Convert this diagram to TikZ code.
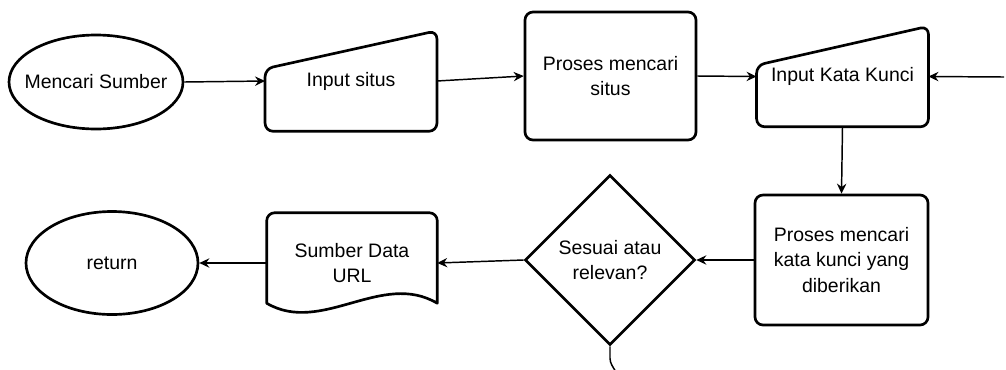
\documentclass[tikz,border=0pt]{standalone}
\usepackage{fontspec}
\setmainfont{Liberation Sans}
\usetikzlibrary{shapes.geometric, arrows.meta, calc}

\begin{document}
\begin{tikzpicture}[
    x=0.75pt, y=-0.75pt,
    font=\fontsize{14.6}{19}\selectfont,
    termnode/.style={draw, ellipse, line width=2pt, inner sep=0pt, minimum width=129pt, minimum height=72pt, align=center},
    procnode/.style={draw, rounded corners=6pt, line width=2pt, minimum width=128.25pt, minimum height=96pt, align=center},
    inputnode/.style={minimum width=128.5pt, minimum height=75pt, inner sep=0pt, align=center},
    decnode/.style={draw, diamond, aspect=1, line width=2pt, inner sep=0pt, minimum width=127.5pt, minimum height=127.5pt, align=center},
    docnode/.style={minimum width=127.5pt, minimum height=75pt, inner sep=0pt, align=center},
    outline/.style={line width=2pt, line join=round},
    flow/.style={-{Stealth[length=7.5pt, width=7pt, inset=2.5pt]}, line width=1.1pt}
]
\useasboundingbox (0,0) rectangle (1006,369);

\node[termnode, inner xsep=-8pt, minimum width=130.5pt, minimum height=70.5pt] (start) at (96,82) {Mencari Sumber};
\node[inputnode] (inSitus) at (351,81) {Input situs};
\node[procnode] (prSitus) at (610.5,76) {Proses mencari\\situs};
\node[inputnode] (inKunci) at (842.5,76.5) {Input Kata Kunci};
\node[procnode, minimum width=129.75pt, minimum height=97.5pt] (prKunci) at (841.5,260) {Proses mencari\\kata kunci yang\\diberikan};
\node[decnode] (cek) at (610,260) {Sesuai atau\\relevan?};
\node[docnode] (urlDoc) at (352,263) {Sumber Data\\URL};
\node[termnode, minimum height=77.25pt] (ret) at (112,263) {return};

\draw[outline, rounded corners=6pt] ($(inSitus.north west)+(0,38)$) -- (inSitus.north east) -- (inSitus.south east) -- (inSitus.south west) -- cycle;
\draw[outline, rounded corners=6pt] ($(inKunci.north west)+(0,39)$) -- (inKunci.north east) -- (inKunci.south east) -- (inKunci.south west) -- cycle;
\draw[outline] ($(urlDoc.south west)+(0,-10)$) [rounded corners=6pt] -- (urlDoc.north west) -- (urlDoc.north east) [sharp corners] -- ($(urlDoc.south east)+(0,-10)$)
    .. controls ($(urlDoc.south west)+(115,-43)$) and ($(urlDoc.south west)+(55,22)$) .. cycle;

\coordinate (rEdge) at (1004,77);
\coordinate (cekOut) at (616,372);

\draw[flow] (start.east) -- (inSitus.west);
\draw[flow] (inSitus.east) -- (prSitus.west);
\draw[flow] (prSitus.east) -- (inKunci.west);
\draw[flow] (rEdge) -- (inKunci.east);
\draw[flow] (inKunci.south) -- (prKunci.north);
\draw[flow] (prKunci.west) -- (cek.east);
\draw[flow] (cek.west) -- (urlDoc.east);
\draw[flow] (urlDoc.west) -- (ret.east);
\draw[line width=1.1pt] (cek.south) -- ++(0,12) .. controls +(0,5) and +(-3,-5) .. (cekOut);
\end{tikzpicture}
\end{document}
